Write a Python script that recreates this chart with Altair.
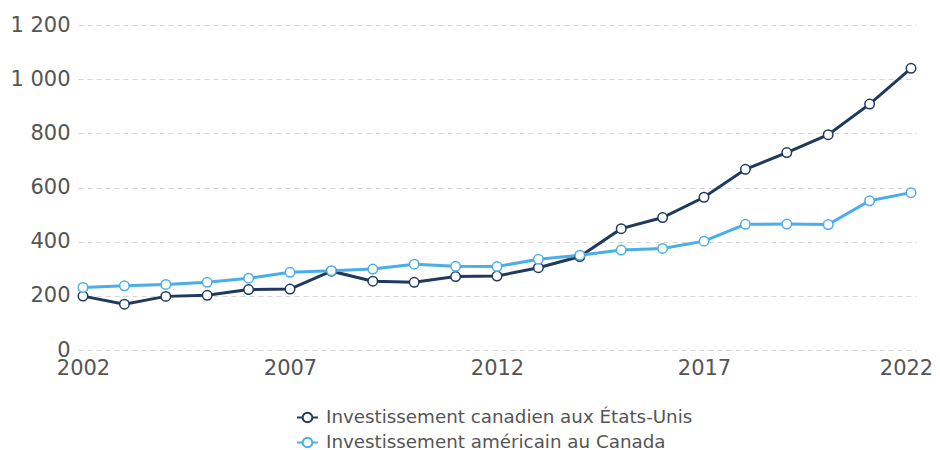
import altair as alt
import pandas as pd

years = list(range(2002, 2023))
canada_in_us = [199, 169, 198, 202, 223, 225, 291, 254, 250, 271, 273, 304, 345,
                448, 489, 564, 667, 729, 795, 908, 1040]
us_in_canada = [231, 237, 242, 250, 265, 287, 293, 299, 317, 309, 308, 335, 350,
                369, 375, 402, 464, 465, 463, 551, 581]
series_names = ["Investissement canadien aux États-Unis",
                "Investissement américain au Canada"]
series_colors = ["#1f3a5c", "#4aaee8"]
x_ticks = [2002, 2007, 2012, 2017, 2022]
y_ticks = [0, 200, 400, 600, 800, 1000, 1200]

rows = []
for y, v in zip(years, canada_in_us):
    rows.append({"year": y, "value": v, "series": series_names[0], "o": 0})
for y, v in zip(years, us_in_canada):
    rows.append({"year": y, "value": v, "series": series_names[1], "o": 1})
df = pd.DataFrame(rows)

sym = ("M-1,0L-0.46,0M0.46,0L1,0"
       "M-0.46,0A0.46,0.46,0,1,1,0.46,0A0.46,0.46,0,1,1,-0.46,0Z")

x = alt.X("year:Q",
          scale=alt.Scale(domain=[2002, 2022], padding=5, nice=False, zero=False),
          axis=alt.Axis(values=x_ticks, format="d", grid=False, domain=False,
                        ticks=False, labelFontSize=21, labelColor="#555555",
                        labelPadding=7, labelFont="DejaVu Sans", title=None,
                        labelFlush=False,
                        labelOffset={"condition": {"test": "datum.value == 2022",
                                                   "value": -5},
                                     "value": 0}))
y = alt.Y("value:Q",
          scale=alt.Scale(domain=[0, 1200], nice=False),
          axis=alt.Axis(values=y_ticks, grid=True, gridDash=[5, 4],
                        gridColor="#d6d6d6", gridWidth=1, domain=False,
                        ticks=False, labelFontSize=21, labelColor="#555555",
                        labelPadding=8, labelFont="DejaVu Sans", title=None,
                        labelExpr="replace(format(datum.value, ','), ',', ' ')"))
color = alt.Color("series:N",
                  scale=alt.Scale(domain=series_names, range=series_colors),
                  legend=alt.Legend(orient="none", legendX=218, legendY=381,
                                    direction="vertical", title=None,
                                    symbolType=sym, symbolSize=441,
                                    symbolFillColor="white",
                                    symbolStrokeWidth=2, labelFontSize=18.3,
                                    labelColor="#555555",
                                    labelFont="DejaVu Sans", labelLimit=0,
                                    rowPadding=4, labelOffset=7))

base = alt.Chart(df).encode(x=x, y=y, color=color, order="o:Q")
lines = base.mark_line(strokeWidth=3, interpolate="linear").encode(detail="series:N")
points = base.mark_point(shape="circle", filled=False, fill="white",
                         fillOpacity=1, opacity=1, size=90, strokeWidth=1.5)

chart = alt.layer(lines, points).properties(
    width=838, height=325,
    autosize=alt.AutoSizeParams(type="none"),
    padding={"left": 70, "top": 17, "right": 16, "bottom": 100},
).configure(font="DejaVu Sans").configure_view(stroke=None)

chart.save("out.html", embed_options={"renderer": "svg", "actions": False})
